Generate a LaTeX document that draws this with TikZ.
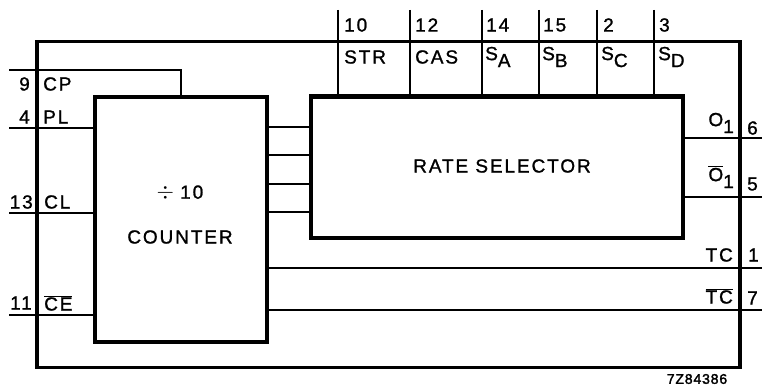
\documentclass[tikz,border=0pt]{standalone}
\usepackage{fontspec}
\setmainfont{Liberation Sans}[LetterSpace=10,FakeBold=1.2]
\newfontfamily\codefont{Liberation Sans}[LetterSpace=6,FakeBold=2]
\begin{document}
\begin{tikzpicture}[x=1pt,y=-1pt,
  thick line/.style={line width=3.2pt},
  pin line/.style={line width=2.8pt},
  blockbox/.style={draw,line width=3.2pt,inner sep=0pt,rectangle},
  lbl/.style={inner sep=0pt,font=\fontsize{19}{19}\selectfont},
  pinnum/.style={inner sep=0pt,font=\fontsize{19}{19}\selectfont},
  blocktext/.style={inner sep=0pt,font=\fontsize{19}{19}\selectfont}]
\useasboundingbox (0,0) rectangle (762,387);
% outer chip box
\node[blockbox,minimum width=703pt,minimum height=326pt] (chip) at (388.5,204.5) {};
% counter and rate selector
\node[blockbox,minimum width=172pt,minimum height=245pt] (counter) at (181,219.5) {};
\node[blockbox,minimum width=372pt,minimum height=141pt] (rs) at (497,167.5) {};
\node[blocktext] (div) at (180,193) {\scalebox{1.3}{$\div$}\hspace{6pt}10};
\node[blocktext] (ctxt) at (180,237) {COUNTER};
\node[blocktext] (rstxt) at (502,166) {RATE SELECTOR};
% left pins
\coordinate (p9) at (9,70);
\coordinate (p4) at (9,128);
\coordinate (p13) at (9,213);
\coordinate (p11) at (9,315);
\draw[pin line] (p9) -| (counter.north);
\draw[pin line] (p4) -- (p4 -| counter.west);
\draw[pin line] (p13) -- (p13 -| counter.west);
\draw[pin line] (p11) -- (p11 -| counter.west);
\node[pinnum,anchor=east] (n9) at (30,84) {9};
\node[lbl,anchor=west] (l9) at (43,84) {CP};
\node[pinnum,anchor=east] (n4) at (30,117) {4};
\node[lbl,anchor=west] (l4) at (43,117) {PL};
\node[pinnum,anchor=east] (n13) at (33,202) {13};
\node[lbl,anchor=west] (l13) at (44,202) {CL};
\node[pinnum,anchor=east] (n11) at (32,303) {11};
\node[lbl,anchor=west] (l11) at (44,303) {$\overline{\mbox{CE}}$};
% counter to rate selector
\foreach \yy in {127,155,184,212}{
  \draw[pin line] (counter.east |- 0,\yy) -- (rs.west |- 0,\yy);
}
% top pins
\foreach \xx/\nm in {338/t10,410/t12,482/t14,539/t15,597/t2,654/t3}{
  \coordinate (\nm) at (\xx,10);
  \draw[pin line] (\nm) -- (\nm |- rs.north);
}
\draw[thick line] (rs.north east) -- (rs.north west);
\node[pinnum,anchor=west] (n10) at (344,25) {10};
\node[lbl,anchor=west] (l10) at (344,57) {STR};
\node[pinnum,anchor=west] (n12) at (415,25) {12};
\node[lbl,anchor=west] (l12) at (415,57) {CAS};
\node[pinnum,anchor=west] (n14) at (486,25) {14};
\node[lbl,anchor=west] (l14) at (485,57) {S\raisebox{-7pt}{A}};
\node[pinnum,anchor=west] (n15) at (543,25) {15};
\node[lbl,anchor=west] (l15) at (542,57) {S\raisebox{-7pt}{B}};
\node[pinnum,anchor=west] (n2) at (603,25) {2};
\node[lbl,anchor=west] (l2) at (601,57) {S\raisebox{-7pt}{C}};
\node[pinnum,anchor=west] (n3) at (659,25) {3};
\node[lbl,anchor=west] (l3) at (658,57) {S\raisebox{-7pt}{D}};
% right pins
\coordinate (o6) at (762,138);
\coordinate (o5) at (762,197);
\coordinate (o1) at (762,268);
\coordinate (o7) at (762,310);
\draw[pin line] (o6) -- (o6 -| rs.east);
\draw[pin line] (o5) -- (o5 -| rs.east);
\draw[pin line] (o1) -- (o1 -| counter.east);
\draw[pin line] (o7) -- (o7 -| counter.east);
\node[lbl,anchor=east] (l6) at (734,123) {O\raisebox{-7pt}{1}};
\node[pinnum,anchor=west] (n6) at (747,128) {6};
\node[lbl,anchor=east] (l5) at (734,177) {$\overline{\mbox{O}}$\raisebox{-7pt}{1}};
\node[pinnum,anchor=west] (n5) at (747,184) {5};
\node[lbl,anchor=east] (l1) at (733,255) {TC};
\node[pinnum,anchor=west] (n1) at (748,255) {1};
\node[lbl,anchor=east] (l7) at (733,296) {$\overline{\mbox{TC}}$};
\node[pinnum,anchor=west] (n7) at (747,298) {7};
% code
\node[inner sep=0pt,font=\codefont\fontsize{14}{14}\selectfont] (code) at (697,379) {7Z84386};
\end{tikzpicture}
\end{document}
